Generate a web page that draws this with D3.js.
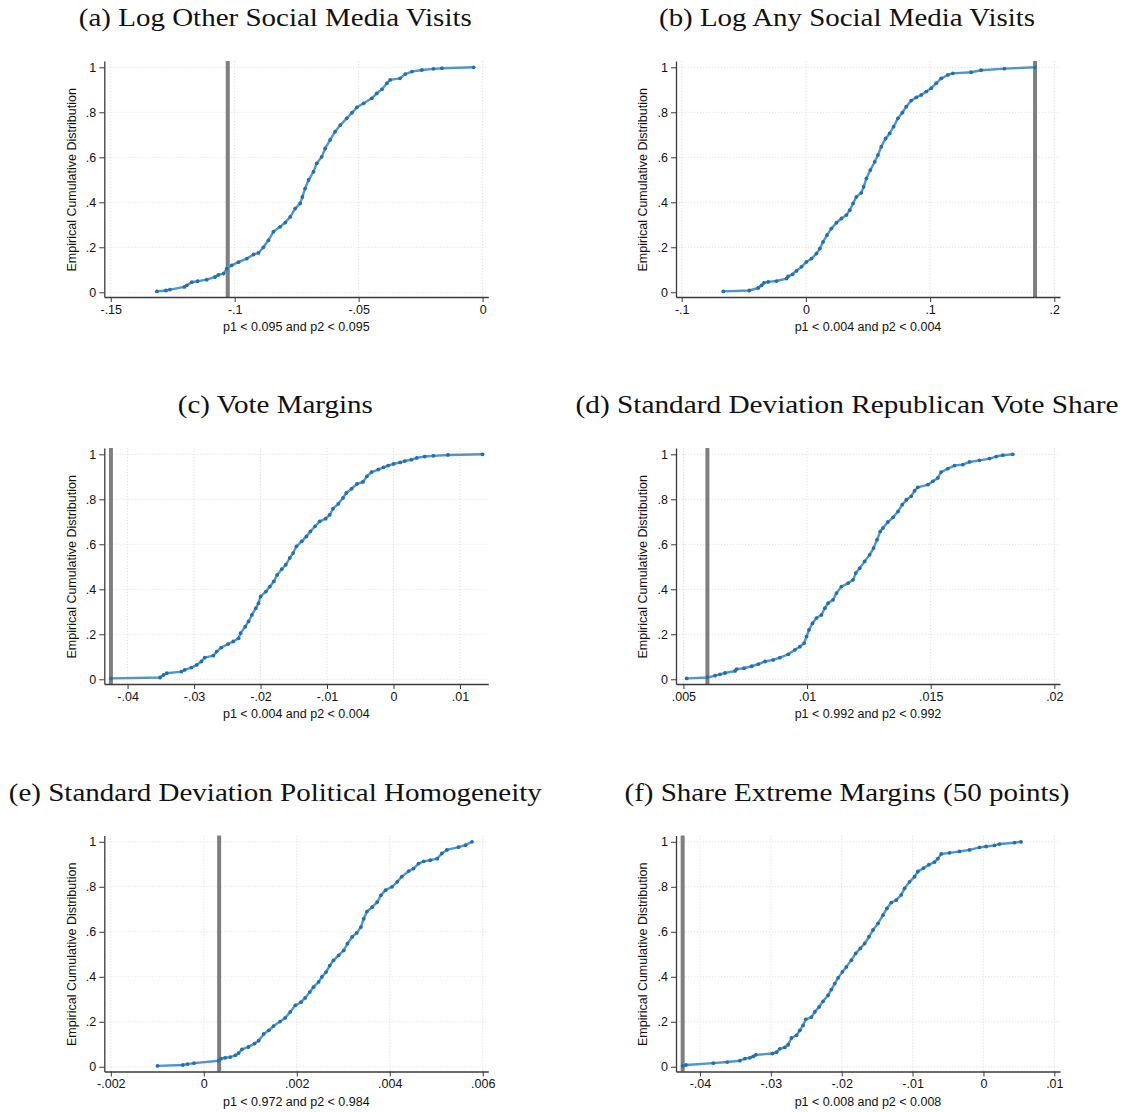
<!DOCTYPE html>
<html>
<head>
<meta charset="utf-8">
<script src="https://cdn.jsdelivr.net/npm/d3@7"></script>
<style>
  body { margin: 0; background: #fff; }
  .tick text { font-family: "Liberation Sans", Arial, sans-serif; }
</style>
</head>
<body>
<div id="chart"></div>
<script>
// values: sorted permutation estimates and their ECDF level
var aX = [-0.1314,-0.1277,-0.1261,-0.1203,-0.1193,-0.1173,-0.115,-0.1113,-0.1079,-0.1066,-0.1045,-0.1032,-0.1012,-0.0985,-0.0951,-0.0924,-0.0904,-0.0884,-0.0864,-0.0844,-0.0817,-0.0796,-0.0776,-0.0756,-0.0736,-0.0727,-0.0716,-0.0702,-0.0682,-0.0669,-0.0649,-0.0635,-0.0615,-0.0595,-0.0574,-0.0548,-0.0527,-0.0507,-0.048,-0.0447,-0.0427,-0.0406,-0.0386,-0.0373,-0.0333,-0.0312,-0.0285,-0.0245,-0.0198,-0.0164,-0.0036];
var aF = [0.004,0.008,0.012,0.024,0.031,0.045,0.049,0.056,0.068,0.077,0.083,0.105,0.12,0.134,0.15,0.168,0.175,0.2,0.231,0.269,0.291,0.31,0.335,0.372,0.395,0.424,0.461,0.499,0.536,0.573,0.602,0.639,0.677,0.714,0.743,0.773,0.798,0.822,0.84,0.862,0.884,0.902,0.929,0.944,0.951,0.97,0.981,0.988,0.993,0.996,1];

var bX = [-0.0665,-0.0456,-0.0384,-0.0357,-0.0338,-0.0304,-0.0237,-0.0156,-0.0143,-0.0108,-0.0076,-0.0036,0.0004,0.0045,0.0085,0.0112,0.0138,0.017,0.0205,0.0246,0.0286,0.0326,0.0353,0.038,0.0406,0.0446,0.0465,0.0487,0.0519,0.0554,0.058,0.0607,0.0642,0.0674,0.0706,0.0741,0.0776,0.0808,0.0848,0.0888,0.0929,0.0969,0.1009,0.1049,0.109,0.1143,0.1183,0.133,0.1411,0.1598,0.1845];
var bF = [0.004,0.008,0.019,0.031,0.042,0.046,0.05,0.061,0.071,0.08,0.095,0.113,0.135,0.15,0.172,0.194,0.224,0.254,0.283,0.309,0.328,0.343,0.365,0.395,0.424,0.442,0.469,0.506,0.543,0.58,0.61,0.647,0.684,0.706,0.736,0.773,0.798,0.825,0.852,0.866,0.877,0.892,0.907,0.929,0.951,0.966,0.973,0.978,0.987,0.994,1];

var cX = [-0.0425,-0.0351,-0.0346,-0.0341,-0.0319,-0.0314,-0.0304,-0.0296,-0.0289,-0.0284,-0.0271,-0.0266,-0.0259,-0.0249,-0.0241,-0.0233,-0.023,-0.0223,-0.0218,-0.0213,-0.0207,-0.0203,-0.02,-0.0192,-0.0186,-0.018,-0.0175,-0.0168,-0.0162,-0.0156,-0.0151,-0.0146,-0.0138,-0.0131,-0.0125,-0.0118,-0.0111,-0.0102,-0.0096,-0.0091,-0.0083,-0.0076,-0.0071,-0.0063,-0.0055,-0.0046,-0.004,-0.0033,-0.0023,-0.0015,-0.0008,0,0.001,0.0017,0.0027,0.0035,0.0047,0.006,0.0082,0.0134];
var cF = [0.004,0.008,0.019,0.027,0.034,0.042,0.052,0.064,0.079,0.096,0.105,0.123,0.141,0.156,0.168,0.182,0.205,0.234,0.257,0.286,0.316,0.338,0.368,0.39,0.412,0.435,0.464,0.49,0.509,0.539,0.561,0.591,0.613,0.635,0.657,0.68,0.702,0.714,0.731,0.758,0.78,0.806,0.828,0.847,0.868,0.877,0.902,0.921,0.932,0.942,0.95,0.957,0.964,0.97,0.976,0.984,0.99,0.993,0.997,1];

var dX = [0.00513,0.00597,0.00628,0.00648,0.00668,0.00709,0.00715,0.00745,0.00776,0.00803,0.0083,0.00863,0.0089,0.00924,0.00951,0.00971,0.00988,0.00998,0.01008,0.01022,0.01038,0.01058,0.01072,0.01085,0.01105,0.01119,0.01139,0.01166,0.01186,0.01197,0.01213,0.01233,0.01253,0.01269,0.01283,0.01296,0.01307,0.01327,0.01348,0.01368,0.01385,0.01402,0.01421,0.01435,0.01448,0.01489,0.01509,0.01529,0.01542,0.01569,0.01596,0.0163,0.01657,0.01697,0.01738,0.01765,0.01792,0.01832];
var dF = [0.004,0.008,0.016,0.022,0.028,0.037,0.045,0.049,0.058,0.067,0.079,0.086,0.096,0.111,0.131,0.145,0.16,0.19,0.22,0.249,0.272,0.286,0.316,0.338,0.353,0.383,0.412,0.427,0.442,0.472,0.494,0.524,0.553,0.583,0.62,0.657,0.672,0.699,0.72,0.746,0.776,0.798,0.813,0.838,0.853,0.865,0.88,0.895,0.921,0.936,0.95,0.954,0.966,0.973,0.981,0.99,0.996,1];

var eX = [-0.000995,-0.00045,-0.00035,-0.00021,0.00032,0.00037,0.00046,0.00057,0.00068,0.00075,0.00082,0.00096,0.00109,0.00118,0.00129,0.0014,0.0015,0.00164,0.00175,0.00186,0.00197,0.00209,0.00218,0.00228,0.00236,0.00247,0.00254,0.00263,0.00271,0.00279,0.0029,0.00301,0.00309,0.00319,0.00329,0.00338,0.00344,0.00351,0.00362,0.00373,0.00381,0.00391,0.00405,0.00416,0.00426,0.00441,0.00451,0.00462,0.00473,0.00487,0.00502,0.00512,0.00523,0.00548,0.00563,0.00577];
var eF = [0.004,0.008,0.012,0.016,0.027,0.036,0.04,0.043,0.051,0.061,0.077,0.088,0.103,0.116,0.146,0.162,0.181,0.201,0.217,0.244,0.273,0.287,0.306,0.332,0.354,0.377,0.399,0.421,0.45,0.473,0.495,0.517,0.547,0.577,0.595,0.621,0.658,0.69,0.709,0.732,0.762,0.785,0.8,0.822,0.845,0.87,0.881,0.903,0.913,0.918,0.925,0.948,0.964,0.976,0.985,1];

var fX = [-0.04244,-0.04197,-0.03812,-0.03615,-0.03437,-0.03366,-0.03296,-0.03249,-0.03211,-0.02977,-0.0292,-0.02873,-0.02803,-0.02756,-0.02709,-0.02638,-0.02591,-0.02545,-0.02507,-0.02427,-0.0238,-0.02319,-0.02263,-0.02192,-0.02146,-0.02098,-0.02051,-0.0199,-0.01934,-0.01864,-0.01803,-0.01737,-0.01676,-0.01615,-0.01559,-0.01488,-0.01418,-0.01362,-0.01301,-0.0123,-0.0116,-0.01113,-0.01042,-0.00972,-0.00925,-0.00845,-0.0077,-0.0069,-0.00643,-0.00596,-0.00479,-0.00338,-0.00197,-0.00056,0.00038,0.00155,0.00225,0.00437,0.00531];
var fF = [0.004,0.008,0.016,0.021,0.027,0.036,0.04,0.046,0.053,0.059,0.065,0.08,0.086,0.098,0.128,0.14,0.162,0.184,0.211,0.221,0.244,0.266,0.291,0.318,0.343,0.37,0.395,0.422,0.444,0.474,0.504,0.526,0.548,0.578,0.608,0.637,0.674,0.704,0.73,0.741,0.764,0.793,0.822,0.845,0.868,0.883,0.898,0.91,0.925,0.946,0.951,0.957,0.964,0.975,0.979,0.984,0.99,0.996,1];

// actual (observed) estimates, drawn as the grey vertical lines
var actual = [-0.1028, 0.1845, -0.0425, 0.00597, 0.00033, -0.04244];

var titles = [
  "(a) Log Other Social Media Visits",
  "(b) Log Any Social Media Visits",
  "(c) Vote Margins",
  "(d) Standard Deviation Republican Vote Share",
  "(e) Standard Deviation Political Homogeneity",
  "(f) Share Extreme Margins (50 points)"
];
var notes = [
  "p1 < 0.095 and p2 < 0.095",
  "p1 < 0.004 and p2 < 0.004",
  "p1 < 0.004 and p2 < 0.004",
  "p1 < 0.992 and p2 < 0.992",
  "p1 < 0.972 and p2 < 0.984",
  "p1 < 0.008 and p2 < 0.008"
];
var xTicks = [
  [-0.15, -0.1, -0.05, 0],
  [-0.1, 0, 0.1, 0.2],
  [-0.04, -0.03, -0.02, -0.01, 0, 0.01],
  [0.005, 0.01, 0.015, 0.02],
  [-0.002, 0, 0.002, 0.004, 0.006],
  [-0.04, -0.03, -0.02, -0.01, 0, 0.01]
];
var xTickLabels = [
  ["-.15", "-.1", "-.05", "0"],
  ["-.1", "0", ".1", ".2"],
  ["-.04", "-.03", "-.02", "-.01", "0", ".01"],
  [".005", ".01", ".015", ".02"],
  ["-.002", "0", ".002", ".004", ".006"],
  ["-.04", "-.03", "-.02", "-.01", "0", ".01"]
];
var yTicks = [0, 0.2, 0.4, 0.6, 0.8, 1];
var yTickLabels = ["0", ".2", ".4", ".6", ".8", "1"];

var xs = [aX, bX, cX, dX, eX, fX];
var Fs = [aF, bF, cF, dF, eF, fF];

// axis extents of each panel (Stata pads the range a little)
var xDomains = [
  [-0.1526, 0.0023],
  [-0.1046, 0.2046],
  [-0.0435, 0.01426],
  [0.0047, 0.02023],
  [-0.00214, 0.00612],
  [-0.04338, 0.0108]
];
var titleWidths = [393, 376, 195, 543, 533, 445];

var svgWidth = 1127;
var svgHeight = 1112;
var plotW = 384;
var plotH = 236;
var colLeft = [104.3, 676];
var rowTop = [61, 448, 835.5];
var sans = "'Liberation Sans', Arial, sans-serif";
var fontSize = 12.5;

var svg = d3.select("#chart")
  .append("svg")
  .attr("width", svgWidth)
  .attr("height", svgHeight)
  .style("background", "#fff");

var yScale = d3.scaleLinear().domain([-0.021, 1.028]).range([plotH, 0]);

var lineCol = "#4f95cf";
var dotCol = "#1f6fb2";
var axisCol = "#3a3a3a";
var gridCol = "#d9d9d9";

titles.forEach(function(title, i) {
  var col = i % 2, row = Math.floor(i / 2);
  var g = svg.append("g")
    .attr("transform", `translate(${colLeft[col]}, ${rowTop[row]})`);

  var xScale = d3.scaleLinear().domain(xDomains[i]).range([0, plotW]);

  // title
  g.append("text")
    .attr("x", plotW / 2 - 21)
    .attr("y", -35)
    .attr("text-anchor", "middle")
    .attr("font-family", "'Liberation Serif', 'DejaVu Serif', serif")
    .attr("font-size", 25)
    .attr("textLength", titleWidths[i])
    .attr("lengthAdjust", "spacingAndGlyphs")
    .attr("fill", "#111")
    .text(title);

  // gridlines
  g.append("g").selectAll("line")
    .data(yTicks)
    .enter()
    .append("line")
    .attr("x1", 0)
    .attr("x2", plotW)
    .attr("y1", d => yScale(d))
    .attr("y2", d => yScale(d))
    .attr("stroke", gridCol)
    .attr("stroke-width", 0.8)
    .attr("stroke-dasharray", "1.2,1.8");

  g.append("g").selectAll("line")
    .data(xTicks[i])
    .enter()
    .append("line")
    .attr("x1", d => xScale(d))
    .attr("x2", d => xScale(d))
    .attr("y1", 0)
    .attr("y2", plotH)
    .attr("stroke", gridCol)
    .attr("stroke-width", 0.8)
    .attr("stroke-dasharray", "1.2,1.8");

  // actual estimate
  g.append("line")
    .attr("x1", xScale(actual[i]))
    .attr("x2", xScale(actual[i]))
    .attr("y1", 0)
    .attr("y2", plotH)
    .attr("stroke", "#7f7f7f")
    .attr("stroke-width", 4);

  // axes
  var xAxis = d3.axisBottom(xScale)
    .tickValues(xTicks[i])
    .tickFormat((d, k) => xTickLabels[i][k])
    .tickSize(5)
    .tickSizeOuter(0)
    .tickPadding(3);
  var yAxis = d3.axisLeft(yScale)
    .tickValues(yTicks)
    .tickFormat((d, k) => yTickLabels[k])
    .tickSize(5)
    .tickSizeOuter(0)
    .tickPadding(3);

  var gx = g.append("g")
    .attr("transform", `translate(0, ${plotH})`)
    .call(xAxis);
  var gy = g.append("g").call(yAxis);
  [gx, gy].forEach(function(a) {
    a.select(".domain").attr("stroke", axisCol).attr("stroke-width", 1.3);
    a.selectAll(".tick line").attr("stroke", axisCol).attr("stroke-width", 1);
    a.selectAll(".tick text").attr("fill", "#111").attr("font-size", fontSize);
  });

  // y label
  g.append("text")
    .attr("transform", `translate(-33, ${(yScale(0) + yScale(1)) / 2}) rotate(-90)`)
    .attr("text-anchor", "middle")
    .attr("dy", "0.35em")
    .attr("font-family", sans)
    .attr("font-size", fontSize)
    .attr("fill", "#111")
    .text("Empirical Cumulative Distribution");

  // note
  g.append("text")
    .attr("x", plotW / 2)
    .attr("y", 270)
    .attr("text-anchor", "middle")
    .attr("font-family", sans)
    .attr("font-size", fontSize)
    .attr("fill", "#111")
    .text(notes[i]);

  // ECDF
  var pts = Fs[i].map((f, k) => ({ x: xs[i][k], f: f }));
  var line = d3.line()
    .x(d => xScale(d.x))
    .y(d => yScale(d.f));

  g.append("path")
    .datum(pts)
    .attr("d", line)
    .attr("fill", "none")
    .attr("stroke", lineCol)
    .attr("stroke-width", 2.4)
    .attr("stroke-linejoin", "round");

  g.append("g").selectAll("circle")
    .data(pts)
    .enter()
    .append("circle")
    .attr("cx", d => xScale(d.x))
    .attr("cy", d => yScale(d.f))
    .attr("r", 1.9)
    .attr("fill", dotCol);
});
</script>
</body>
</html>
